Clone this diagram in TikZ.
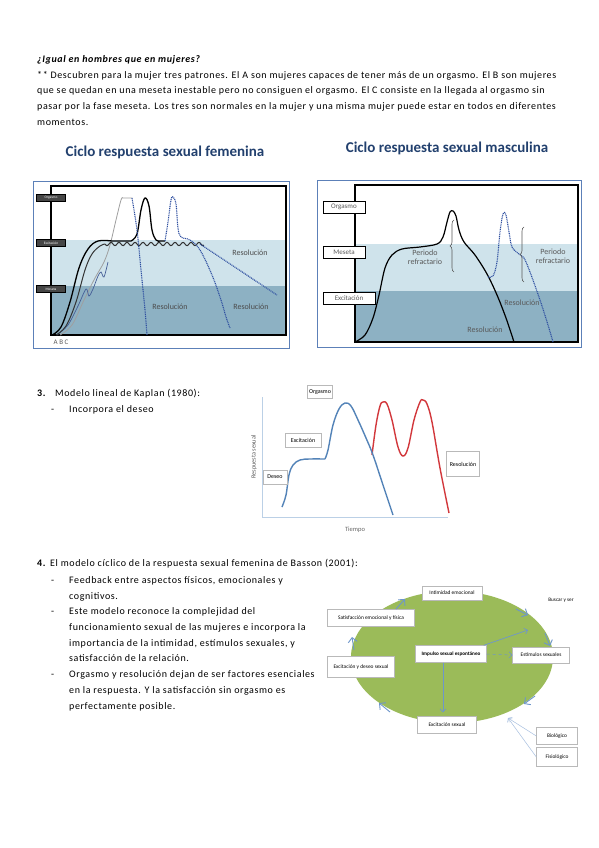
\documentclass[tikz,border=0pt]{standalone}
\usepackage{fontspec}
\setmainfont{Carlito}
\newfontfamily\bodyf{Carlito}[LetterSpace=6]
\usetikzlibrary{arrows.meta,decorations.pathreplacing}
\definecolor{ttl}{HTML}{22406E}
\definecolor{bandL}{HTML}{CFE3EB}
\definecolor{bandD}{HTML}{8DB1C3}
\definecolor{frameblue}{HTML}{5C80B8}
\definecolor{dotblue}{HTML}{2E4FA0}
\definecolor{kblue}{HTML}{5383B8}
\definecolor{kred}{HTML}{D2383C}
\definecolor{axisblue}{HTML}{BBD0E6}
\definecolor{ellgreen}{HTML}{9BBB59}
\definecolor{arrblue}{HTML}{6E96CB}
\begin{document}
\begin{tikzpicture}[x=1pt,y=-1pt,
  body/.style={anchor=base west, inner sep=0pt, font=\bodyf\fontsize{10}{12}\selectfont},
  ctitle/.style={font=\bfseries\fontsize{15}{17}\selectfont, text=ttl, inner sep=0pt},
  flab/.style={draw=black, fill=gray!55!black, text=white, font=\fontsize{3.5}{4}\selectfont, inner sep=0pt, minimum width=29pt, minimum height=6.5pt, line width=0.6pt},
  mlab/.style={draw=black, fill=white, text=gray!70!black, font=\fontsize{7}{8}\selectfont, inner sep=1pt, minimum height=12pt, line width=1pt},
  rtext/.style={text=gray!60!black, font=\fontsize{8}{9}\selectfont, inner sep=0pt, align=center},
  kbox/.style={draw=gray!55, fill=white, font=\fontsize{6}{7}\selectfont, inner sep=1.5pt, line width=0.4pt},
  bbox/.style={draw=gray!55, fill=white, font=\fontsize{5.4}{6}\selectfont, inner sep=1pt, line width=0.4pt},
  barrow/.style={draw=arrblue, line width=0.7pt, -{Straight Barb[length=3pt,width=6pt]}},
  carrow/.style={draw=arrblue, line width=0.9pt, -{Straight Barb[length=4.5pt,width=9pt]}},
  dotc/.style={dotblue, line width=1.1pt, dash pattern=on 1pt off 0.8pt},
]
\useasboundingbox (0,0) rectangle (599,848);
\fill[white] (0,0) rectangle (599,848);

% ---------- intro text ----------
\node[body] (t0) at (37,63) {\bfseries\itshape ¿Igual en hombres que en mujeres?};
\node[body] (t1) at (37,79) {** Descubren para la mujer tres patrones. El A son mujeres capaces de tener más de un orgasmo. El B son mujeres};
\node[body] (t2) at (37,94) {que se quedan en una meseta inestable pero no consiguen el orgasmo. El C consiste en la llegada al orgasmo sin};
\node[body] (t3) at (37,110) {pasar por la fase meseta. Los tres son normales en la mujer y una misma mujer puede estar en todos en diferentes};
\node[body] (t4) at (37,125) {momentos.};

% ---------- female chart ----------
\node[ctitle] (ft) at (165,152) {Ciclo respuesta sexual femenina};
\draw[frameblue, line width=1pt] (33,181) rectangle (289,348);
\fill[bandL] (51,240) rectangle (286,286);
\fill[bandD] (51,286) rectangle (286,335);
\draw[line width=1.2pt] (51,186) rectangle (286,335);
% curve C (gray thin) and kinked blue
\draw[gray!75, line width=0.8pt] plot[smooth, tension=0.6] coordinates {(60,335) (72,325) (84,300) (95,278) (104,262) (110,245) (116,220) (121,200) (123,198)} -- (132,198);
\draw[dotblue!70!gray, line width=0.7pt] plot[smooth, tension=0.5] coordinates {(57,335) (68,325) (78,306) (86,289) (89,296) (93,289) (98,276) (101,272) (104,277) (108,262)};
% curve A (black)
\draw[line width=1.3pt] plot[smooth, tension=0.6] coordinates {(52,335) (61,327) (70,302) (79,268) (88,249) (98,241) (112,241)} -- (131,241) plot[smooth, tension=0.6] coordinates {(131,241) (137,234) (141,210) (145,198) (149,206) (152,230) (156,240) (160,241)} -- (165,241);
% curve B (dark, wavy)
\draw[black!80, line width=1pt] plot[smooth, tension=0.6] coordinates {(56,335) (66,326) (76,302) (85,270) (92,254) (100,246) (105,244)};
\draw[black!80, line width=1pt] plot[domain=105:204, samples=120] (\x, {244+1.6*sin((\x-105)*45)});
% dotted resolutions
\draw[dotc] plot[smooth, tension=0.6] coordinates {(132,198) (137,230) (141,270) (145,310) (147,335)};
\draw[dotc] plot[smooth, tension=0.6] coordinates {(165,241) (168,222) (171,200) (173,197) (176,204) (178,228) (181,237) (190,240) (200,250) (212,275) (221,300) (226,317) (230,328)};
\draw[dotc] (200,244) -- (277,295);
\node[rtext] (fr1) at (250,253) {Resolución};
\node[rtext] (fr2) at (170,307) {Resolución};
\node[rtext] (fr3) at (251,307) {Resolución};
\node[flab] (fo) at (51,198) {Orgasmo};
\node[flab] (fe) at (51,243) {Excitación};
\node[flab] (fm) at (51,289) {Meseta};
\node[text=gray!70!black, font=\fontsize{7}{8}\selectfont, inner sep=0pt] (abc) at (61,342) {A B C};

% ---------- male chart ----------
\node[ctitle] (mt) at (447,148) {Ciclo respuesta sexual masculina};
\draw[frameblue, line width=1pt] (317,180) rectangle (581,347);
\fill[bandL] (355,244) rectangle (578,291);
\fill[bandD] (355,291) rectangle (578,342);
\draw[line width=1.2pt] (355,185) rectangle (578,342);
\draw[line width=1.2pt] plot[smooth, tension=0.55] coordinates {(355,342) (365,335) (373,318) (379,295) (385,268) (392,255) (402,249) (420,247) (437,244) (443,237) (447,222) (450,212) (453,211) (456,216) (459,230) (464,242) (475,255) (487,274) (497,295) (506,318) (514,342)};
\draw[dotc] plot[smooth, tension=0.55] coordinates {(488,277) (493,276) (497,262) (500,232) (503,214) (506,215) (509,232) (512,247) (519,254) (524,258) (530,272) (540,300) (548,325) (553,342)};
\draw[gray!70!black, line width=0.6pt, decorate, decoration={brace, amplitude=4pt}] (454,272) -- (454,220);
\draw[gray!70!black, line width=0.6pt, decorate, decoration={brace, amplitude=4pt}] (524,282) -- (524,227);
\node[rtext, text=gray!70!black] (mp1) at (425,257) {Periodo\\refractario};
\node[rtext, text=gray!70!black] (mp2) at (553,256) {Periodo\\refractario};
\node[rtext, text=gray!70!black] (mr1) at (522,303) {Resolución};
\node[rtext, text=gray!70!black] (mr2) at (485,330) {Resolución};
\node[mlab, minimum width=42pt] (mo) at (344,207) {Orgasmo};
\node[mlab, minimum width=42pt] (mm) at (344,252) {Meseta};
\node[mlab, minimum width=52pt] (mx) at (349,298.5) {Excitación};

% ---------- section 3 ----------
\node[body] (s3n) at (37,396) {\bfseries 3.};
\node[body] (s3) at (55,396) {Modelo lineal de Kaplan (1980):};
\node[body] (s3d) at (51,412) {-};
\node[body] (s3a) at (69,412) {Incorpora el deseo};

\draw[axisblue, line width=0.8pt] (262,397) -- (262,517) -- (448,517);
\node[rotate=90, font=\fontsize{6.3}{7}\selectfont, text=gray!70!black, inner sep=0pt] (ky) at (254,457) {Respuesta sexual};
\node[font=\fontsize{6.5}{7}\selectfont, text=gray!80!black, inner sep=0pt] (kx) at (355,530) {Tiempo};
\draw[kred, line width=1.4pt] plot[smooth, tension=0.6] coordinates {(372,455) (376,425) (380,406) (383,402) (387,404) (392,420) (398,447) (403,456) (408,448) (414,420) (420,402) (423,400) (427,404) (432,422) (440,468) (449,513)};
\draw[kblue, line width=1.4pt] plot[smooth, tension=0.6] coordinates {(282,507) (286,495) (289,475) (293,465) (300,460) (310,459) (325,459)} plot[smooth, tension=0.6] coordinates {(325,459) (328,450) (333,425) (339,409) (345,403) (351,406) (358,420) (366,438) (373,455) (383,485) (393,515)};
\node[kbox, minimum width=22pt, minimum height=13pt] (ko) at (320,392) {Orgasmo};
\node[kbox, minimum width=36pt, minimum height=14pt] (ke) at (303,440) {Excitación};
\node[kbox, minimum width=24pt, minimum height=14pt] (kd) at (275,477) {Deseo};
\node[kbox, minimum width=33pt, minimum height=25pt] (kr) at (463,464) {Resolución};

% ---------- section 4 ----------
\node[body] (s4n) at (37,566) {\bfseries 4.};
\node[body] (s4) at (50,566) {El modelo cíclico de la respuesta sexual femenina de Basson (2001):};
\foreach \y/\t/\d in {583/{Feedback entre aspectos físicos, emocionales y}/1, 599/{cognitivos.}/0, 614/{Este modelo reconoce la complejidad del}/1, 630/{funcionamiento sexual de las mujeres e incorpora la}/0, 646/{importancia de la intimidad, estímulos sexuales, y}/0, 661/{satisfacción de la relación.}/0, 677/{Orgasmo y resolución dejan de ser factores esenciales}/1, 693/{en la respuesta. Y la satisfacción sin orgasmo es}/0, 709/{perfectamente posible.}/0}{
  \node[body] (l\y) at (69,\y) {\t};
  \ifnum\d=1 \node[body] (d\y) at (51,\y) {-};\fi
}

% Basson diagram
\fill[ellgreen] (452,657) ellipse [x radius=101pt, y radius=66pt];
\node[bbox, minimum width=60pt, minimum height=14pt] (bi) at (452,593) {Intimidad emocional};
\node[bbox, minimum width=87pt, minimum height=17pt] (bs) at (371,618) {Satisfacción emocional y física};
\node[bbox, minimum width=71pt, minimum height=17pt, font=\bfseries\fontsize{5.2}{6}\selectfont] (bimp) at (451,654) {Impulso sexual espontáneo};
\node[bbox, minimum width=57pt, minimum height=16pt] (be) at (541,655) {Estímulos sexuales};
\node[bbox, minimum width=67pt, minimum height=21pt] (bd) at (361,667) {Excitación y deseo sexual};
\node[bbox, minimum width=59pt, minimum height=17pt] (bx) at (447,725) {Excitación sexual};
\node[bbox, minimum width=41pt, minimum height=17pt] (bb) at (557,736) {Biológico};
\node[bbox, minimum width=41pt, minimum height=19pt] (bf) at (557,757) {Fisiológico};
\node[font=\fontsize{5.2}{6}\selectfont, inner sep=0pt] (bus) at (561,600) {Buscar y ser};
\coordinate (c1a) at (396,609); \coordinate (c1b) at (405,599);
\coordinate (c2a) at (516,609); \coordinate (c2b) at (528,615);
\coordinate (c3a) at (545,633); \coordinate (c3b) at (550,646);
\coordinate (c4a) at (535,696); \coordinate (c4b) at (524,704);
\coordinate (c5a) at (390,712); \coordinate (c5b) at (379,703);
\coordinate (c6a) at (354,650); \coordinate (c6b) at (352,637);
\coordinate (c7) at (528,630);
\coordinate (c8) at (508,718);
\draw[carrow] (c1a) -- (c1b);
\draw[carrow] (c2a) -- (c2b);
\draw[carrow] (c3a) -- (c3b);
\draw[carrow] (c4a) -- (c4b);
\draw[carrow] (c5a) -- (c5b);
\draw[carrow] (c6a) -- (c6b);
\draw[barrow] ([xshift=-3pt]bimp.north east) -- (c7);
\draw[barrow, dashed, line width=0.5pt] (bimp.east) -- (be.west);
\draw[barrow] ([xshift=-8pt]bimp.south) -- ([xshift=-4pt,yshift=4pt]bx.north);
\draw[barrow, draw=arrblue!60, line width=0.5pt] (bb.west) -- (c8);
\draw[barrow, draw=arrblue!60, line width=0.5pt] (bf.west) -- (c8);
\end{tikzpicture}
\end{document}
